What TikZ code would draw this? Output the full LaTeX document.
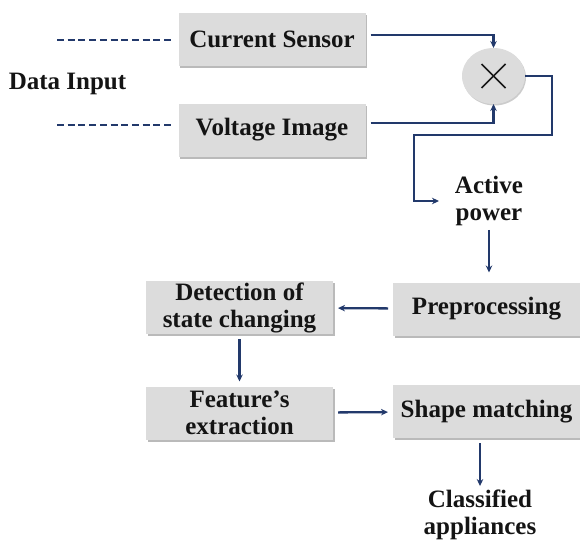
\documentclass[tikz,border=0pt]{standalone}
\usepackage{fontspec}
\setmainfont{Liberation Serif}
\usetikzlibrary{arrows.meta,shapes.geometric,shadows}
\definecolor{navy}{HTML}{22396B}
\definecolor{boxgray}{HTML}{DCDCDC}
\definecolor{ink}{HTML}{141414}
\begin{document}
\begin{tikzpicture}[x=1pt, y=-1pt,
  every node/.style={font={\bfseries\fontsize{25}{27}\selectfont}, text=ink, align=center},
  block/.style={fill=boxgray, minimum width=187pt, minimum height=53pt, inner sep=0pt, outer sep=5pt,
    drop shadow={shadow xshift=1.5pt, shadow yshift=-2pt, fill=black!45, opacity=.6}},
  label/.style={inner sep=2pt, outer sep=2pt},
  flow/.style={draw=navy, line width=2.3pt, -{Stealth[length=7pt,width=6.5pt]}},
  dashline/.style={draw=navy, line width=2.3pt, dash pattern=on 7pt off 3.7pt}]
\useasboundingbox (0,0) rectangle (580,541);
\node[block] (current) at (272,39) {Current Sensor};
\node[block] (voltage) at (272,130) {Voltage Image};
\node[label] (datain) at (67.5,84) {Data Input};
\node[ellipse, fill=boxgray, minimum width=63pt, minimum height=56pt, inner sep=0pt, outer sep=0pt,
  drop shadow={shadow xshift=1pt, shadow yshift=-1.5pt, fill=black!40, opacity=.5}] (mult) at (493.5,76) {};
\node[label] (active) at (489,201) {Active\\power};
\node[block] (pre) at (486.5,309) {Preprocessing};
\node[block] (detect) at (239.5,307.5) {Detection of\\state changing};
\node[block] (feature) at (239.5,413) {Feature’s\\extraction};
\node[block] (shape) at (486.5,411.5) {Shape matching};
\node[label] (classified) at (480,515) {Classified\\appliances};
\coordinate (inc) at (57,40);
\coordinate (inv) at (57,125);
\coordinate (bend) at (414,135);
\draw[black!90, line width=1.7pt] ([shift={(-12,-12)}]mult.center) -- ([shift={(12,12)}]mult.center);
\draw[black!90, line width=1.7pt] ([shift={(-12,12)}]mult.center) -- ([shift={(12,-12)}]mult.center);
\path[dashline] (inc) -- ([xshift=-3pt]inc -| current.west);
\path[dashline] (inv) -- ([xshift=-3pt]inv -| voltage.west);
\path[flow] ([yshift=4pt]current.east) -| (mult.north);
\path[flow] ([yshift=7pt]voltage.east) -| (mult.south);
\path[flow] (mult.east) -- ++(27,0) |- (bend) |- ([xshift=-12pt]active.west);
\path[flow] (active.south) -- ([yshift=5pt]pre.north -| active.south);
\path[flow] (pre) -- (detect);
\path[flow] (detect.south) -- (feature.north);
\path[flow] (feature) -- (shape);
\path[flow] (shape.south -| classified.north) -- (classified.north);
\end{tikzpicture}
\end{document}
